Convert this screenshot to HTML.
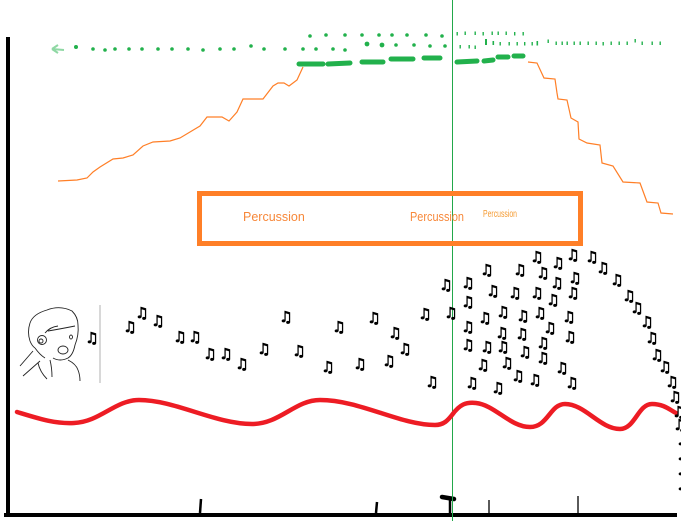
<!DOCTYPE html>
<html><head><meta charset="utf-8"><style>
html,body{margin:0;padding:0;background:#fff;}
svg{display:block;}
.n{font-family:"DejaVu Sans",sans-serif;font-size:15px;font-weight:bold;fill:#000;stroke:#000;stroke-width:0.7;text-anchor:middle;dominant-baseline:central;}
</style></head><body>
<svg width="681" height="521" viewBox="0 0 681 521" xmlns="http://www.w3.org/2000/svg">
<rect width="681" height="521" fill="#fff"/>
<!-- axes -->
<rect x="6" y="37" width="4" height="480" fill="#000"/>
<rect x="4" y="513" width="673" height="4" fill="#000"/>
<!-- ticks -->
<path d="M201,499 L200,513" stroke="#000" stroke-width="2.5"/>
<path d="M377,502 L376,513" stroke="#000" stroke-width="2.5"/>
<path d="M450,498 L450,513" stroke="#000" stroke-width="2.5"/>
<path d="M442,497 L454,499" stroke="#000" stroke-width="4.5" stroke-linecap="round" fill="none"/>
<path d="M489,500 L489,513" stroke="#000" stroke-width="1.3"/>
<path d="M578,496 L578,513" stroke="#000" stroke-width="1.3"/>
<!-- vertical green line -->
<rect x="452" y="0" width="1" height="521" fill="#22a84a"/>
<!-- orange line -->
<polyline fill="none" stroke="#ff7f27" stroke-width="1.2" points="58,181 77,180 87,178 93,172 100,167 113,159 123,158 133,155 143,146 153,142 170,141 180,138 200,126 207,117 222,117 229,121 237,112 243,99 263,99 273,86 278,83 284,83 289,86 297,80 303,67"/>
<polyline fill="none" stroke="#ff7f27" stroke-width="1.2" points="528,62 537,63 544,78 555,79 557,93 558,99 567,100 571,118 578,122 579,139 587,143 600,145 602,163 613,166 623,182 640,183 647,202 658,203 661,213 673,214"/>
<!-- green thick dashes -->
<g stroke="#22b14c" stroke-width="5" stroke-linecap="round" fill="none">
<path d="M299,64 L323,64"/><path d="M328,64 L350,63"/><path d="M362,62 L383,62"/>
<path d="M391,59 L413,59"/><path d="M424,58 L440,58"/><path d="M457,62 L477,61"/>
<path d="M484,61 L493,60"/><path d="M498,57 L508,57"/><path d="M514,56 L523,56"/>
</g>
<!-- green dots -->
<g fill="#22b14c">
<circle cx="76" cy="47" r="2"/><circle cx="93" cy="49" r="1.8"/><circle cx="105" cy="50" r="1.8"/><circle cx="115" cy="49" r="1.8"/>
<circle cx="129" cy="49" r="1.8"/><circle cx="142" cy="49" r="1.8"/><circle cx="158" cy="49" r="1.8"/><circle cx="172" cy="49" r="1.8"/>
<circle cx="188" cy="49" r="1.8"/><circle cx="203" cy="50" r="1.8"/><circle cx="220" cy="49" r="1.8"/><circle cx="234" cy="49" r="1.8"/>
<circle cx="251" cy="46" r="1.8"/><circle cx="264" cy="49" r="1.8"/><circle cx="285" cy="49" r="1.8"/><circle cx="303" cy="49" r="1.8"/>
<circle cx="316" cy="49" r="1.8"/><circle cx="333" cy="49" r="1.8"/><circle cx="345" cy="50" r="1.8"/>
<circle cx="310" cy="36" r="1.8"/><circle cx="326" cy="35" r="1.8"/><circle cx="345" cy="35" r="1.8"/><circle cx="362" cy="35" r="1.8"/>
<circle cx="379" cy="35" r="1.8"/><circle cx="392" cy="35" r="1.8"/><circle cx="407" cy="35" r="1.8"/><circle cx="426" cy="35" r="1.8"/><circle cx="442" cy="36" r="1.8"/>
<circle cx="367" cy="44" r="2.4"/><circle cx="382" cy="45" r="2.4"/><circle cx="396" cy="45" r="1.8"/><circle cx="414" cy="45" r="1.8"/><circle cx="430" cy="46" r="1.8"/><circle cx="445" cy="46" r="1.8"/>
</g>
<g fill="#22b14c">
<rect x="456.5" y="32" width="1.4" height="3.5"/><rect x="464.5" y="31.5" width="1.4" height="3.5"/><rect x="474.5" y="31.5" width="1.4" height="3.5"/>
<rect x="482.5" y="32" width="1.4" height="3.5"/><rect x="491.5" y="31.5" width="1.4" height="3.5"/><rect x="497.5" y="31.5" width="1.4" height="3.5"/>
<rect x="505.5" y="31.5" width="1.4" height="3.5"/><rect x="514" y="32" width="1.4" height="3.5"/><rect x="522.5" y="32" width="1.4" height="3.5"/>
<rect x="459.5" y="45" width="1.4" height="3.5"/><rect x="468.5" y="45" width="1.4" height="3.5"/><rect x="474.5" y="45.5" width="1.4" height="3.5"/>
<rect x="485" y="39" width="2" height="6"/><rect x="492.5" y="41" width="1.6" height="4"/><rect x="499.5" y="42" width="1.4" height="3.5"/>
<rect x="508.5" y="42" width="1.4" height="3.5"/><rect x="516.5" y="42" width="1.4" height="3.5"/><rect x="524" y="42" width="1.4" height="3.5"/>
<rect x="531.5" y="42" width="1.4" height="3.5"/><rect x="536.5" y="41" width="1.6" height="4.5"/><rect x="547.5" y="39.5" width="1.4" height="3.5"/>
<rect x="555.5" y="41.5" width="1.4" height="3.5"/><rect x="561.5" y="41.5" width="1.4" height="3.5"/><rect x="566.5" y="41.5" width="1.4" height="3.5"/>
<rect x="573.5" y="41.5" width="1.4" height="3.5"/><rect x="579.5" y="41.5" width="1.4" height="3.5"/><rect x="587.5" y="41.5" width="1.4" height="3.5"/>
<rect x="595.5" y="41.5" width="1.4" height="3.5"/><rect x="602.5" y="42" width="1.4" height="3.5"/><rect x="610.5" y="41.5" width="1.4" height="3.5"/>
<rect x="618.5" y="41.5" width="1.4" height="3.5"/><rect x="626.5" y="41.5" width="1.4" height="3.5"/><rect x="634.5" y="39" width="1.4" height="3.5"/>
<rect x="641.5" y="41.5" width="1.4" height="3.5"/><rect x="651.5" y="41.5" width="1.4" height="3.5"/><rect x="659.5" y="41.5" width="1.4" height="3.5"/>
</g>
<!-- faint arrow -->
<path d="M52,49 L58,45 M52,49 L58,53 M52,49 L64,50" stroke="#8fd8a4" stroke-width="2" fill="none"/>
<!-- orange box -->
<rect x="199.5" y="193.5" width="381" height="50" fill="none" stroke="#ff7f27" stroke-width="5"/>
<text x="243" y="221" font-family="Liberation Sans, sans-serif" font-size="12.5" fill="#f7883a">Percussion</text>
<text x="410" y="221" font-family="Liberation Sans, sans-serif" font-size="12.5" fill="#f7883a" textLength="54" lengthAdjust="spacingAndGlyphs">Percussion</text>
<text x="483" y="217" font-family="Liberation Sans, sans-serif" font-size="10" fill="#f59a30" textLength="34" lengthAdjust="spacingAndGlyphs">Percussion</text>
<!-- red wave -->
<path d="M17,412 C40,419 55,424 74,423 C100,422 115,400 139,400 C175,400 215,424 252,424 C280,424 295,400 320,400 C360,400 400,425 435,425 C444,425 448,420 452,415 C460,404 466,402 476,403 C495,405 510,427 530,427 C548,427 550,404 565,404 C585,404 600,429 620,429 C635,429 638,404 652,404 C664,404 670,410 676,413" fill="none" stroke="#ed1c24" stroke-width="4.5" stroke-linecap="round"/>
<!-- face -->
<rect x="99.5" y="305" width="1" height="78" fill="#b0b0b0"/>
<g fill="none" stroke="#222" stroke-width="0.9">
<path d="M30,323 Q33,314 47,310 Q60,305 72,311 Q78,317 78,325 Q79,335 75,345 Q73,355 68,358 Q60,362 53,358"/>
<path d="M30,323 Q27,332 30,341 Q32,346 35,348"/>
<path d="M48,331 Q60,329 75,326"/>
<path d="M45,333 Q50,327 58,326"/>
<circle cx="42" cy="340" r="4.5"/>
<circle cx="41" cy="341" r="2"/>
<path d="M20,366 L33,351 M23,376 L40,361"/>
<path d="M50,360 Q52,368 52,377"/>
<path d="M68,360 Q76,364 78,370 Q80,375 80,381"/>
<path d="M38,363 Q40,372 47,379"/>
<ellipse cx="63" cy="350" rx="5" ry="4"/>
<ellipse cx="71" cy="337" rx="1.5" ry="2"/>
<path d="M35,348 Q40,355 45,358"/>
</g>
<!-- music notes -->
<g>
<text class="n" x="92" y="338">♫</text><text class="n" x="130" y="327">♫</text><text class="n" x="142" y="313">♫</text><text class="n" x="158" y="321">♫</text>
<text class="n" x="180" y="337">♫</text><text class="n" x="195" y="337">♫</text><text class="n" x="210" y="354">♫</text><text class="n" x="226" y="354">♫</text>
<text class="n" x="242" y="364">♫</text><text class="n" x="264" y="349">♫</text><text class="n" x="286" y="317">♫</text><text class="n" x="299" y="351">♫</text>
<text class="n" x="328" y="367">♫</text><text class="n" x="339" y="327">♫</text><text class="n" x="360" y="364">♫</text><text class="n" x="374" y="318">♫</text>
<text class="n" x="389" y="361">♫</text><text class="n" x="395" y="333">♫</text><text class="n" x="405" y="349">♫</text><text class="n" x="425" y="314">♫</text>
<text class="n" x="432" y="382">♫</text><text class="n" x="446" y="285">♫</text><text class="n" x="451" y="313">♫</text>
<text class="n" x="537" y="257">♫</text><text class="n" x="573" y="255">♫</text><text class="n" x="592" y="257">♫</text><text class="n" x="487" y="270">♫</text>
<text class="n" x="520" y="270">♫</text><text class="n" x="558" y="263">♫</text><text class="n" x="543" y="273">♫</text><text class="n" x="603" y="268">♫</text>
<text class="n" x="468" y="283">♫</text><text class="n" x="575" y="278">♫</text><text class="n" x="557" y="283">♫</text>
<text class="n" x="493" y="291">♫</text><text class="n" x="515" y="293">♫</text><text class="n" x="537" y="293">♫</text><text class="n" x="553" y="300">♫</text>
<text class="n" x="573" y="293">♫</text><text class="n" x="468" y="302">♫</text><text class="n" x="617" y="280">♫</text><text class="n" x="629" y="296">♫</text>
<text class="n" x="637" y="308">♫</text><text class="n" x="647" y="322">♫</text><text class="n" x="652" y="338">♫</text><text class="n" x="657" y="355">♫</text>
<text class="n" x="665" y="367">♫</text><text class="n" x="672" y="382">♫</text><text class="n" x="675" y="397">♫</text><text class="n" x="679" y="412">♫</text>
<text class="n" x="680" y="425">♫</text><text class="n" x="683" y="440">♫</text><text class="n" x="683" y="455">♫</text><text class="n" x="683" y="470">♫</text><text class="n" x="683" y="485">♫</text>
<text class="n" x="485" y="318">♫</text><text class="n" x="503" y="312">♫</text><text class="n" x="523" y="316">♫</text><text class="n" x="540" y="313">♫</text>
<text class="n" x="569" y="317">♫</text><text class="n" x="468" y="327">♫</text><text class="n" x="502" y="333">♫</text><text class="n" x="522" y="334">♫</text>
<text class="n" x="550" y="328">♫</text><text class="n" x="570" y="337">♫</text><text class="n" x="468" y="345">♫</text><text class="n" x="487" y="347">♫</text>
<text class="n" x="503" y="347">♫</text><text class="n" x="525" y="352">♫</text><text class="n" x="543" y="343">♫</text><text class="n" x="543" y="358">♫</text>
<text class="n" x="483" y="365">♫</text><text class="n" x="507" y="363">♫</text><text class="n" x="562" y="368">♫</text>
<text class="n" x="472" y="383">♫</text><text class="n" x="498" y="388">♫</text><text class="n" x="518" y="376">♫</text><text class="n" x="535" y="380">♫</text><text class="n" x="572" y="383">♫</text>
</g>
</svg>
</body></html>
